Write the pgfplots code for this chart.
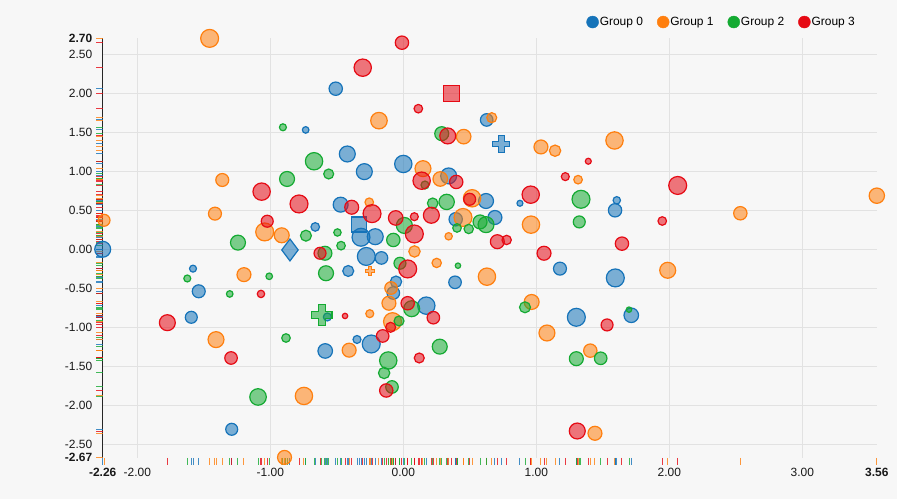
\documentclass[border=0pt]{standalone}
\usepackage{fontspec}
\setmainfont{Liberation Sans}
\usepackage{pgfplots}
\usepackage{pgfplotstable}
\pgfplotsset{compat=1.18}
\usetikzlibrary{plotmarks}

\definecolor{c0}{HTML}{1573B9}
\definecolor{c1}{HTML}{FF7F0E}
\definecolor{c2}{HTML}{14AA32}
\definecolor{c3}{HTML}{E60A14}
\definecolor{bg}{HTML}{F7F7F7}
\definecolor{gridc}{HTML}{E2E2E2}

% thick plus, like the d3 "cross" symbol
\pgfdeclareplotmark{fatplus}{%
  \pgfmathsetmacro\s{\pgfplotmarksize}%
  \pgfmathsetmacro\t{\pgfplotmarksize/3}%
  \pgfpathmoveto{\pgfpoint{-\t pt}{\s pt}}%
  \pgfpathlineto{\pgfpoint{\t pt}{\s pt}}%
  \pgfpathlineto{\pgfpoint{\t pt}{\t pt}}%
  \pgfpathlineto{\pgfpoint{\s pt}{\t pt}}%
  \pgfpathlineto{\pgfpoint{\s pt}{-\t pt}}%
  \pgfpathlineto{\pgfpoint{\t pt}{-\t pt}}%
  \pgfpathlineto{\pgfpoint{\t pt}{-\s pt}}%
  \pgfpathlineto{\pgfpoint{-\t pt}{-\s pt}}%
  \pgfpathlineto{\pgfpoint{-\t pt}{-\t pt}}%
  \pgfpathlineto{\pgfpoint{-\s pt}{-\t pt}}%
  \pgfpathlineto{\pgfpoint{-\s pt}{\t pt}}%
  \pgfpathlineto{\pgfpoint{-\t pt}{\t pt}}%
  \pgfpathclose
  \pgfusepathqfillstroke
}

% x y radius shape (c circle, d diamond, p cross, q square)
\pgfplotstableread{
x y r s
-2.260 0.000 8 c
-0.734 1.528 3.3 c
-0.852 -0.009 11 d
-1.581 -0.248 3.5 c
-1.538 -0.538 6.5 c
-1.594 -0.871 6 c
-1.290 -2.305 6 c
-0.508 2.056 6.7 c
0.627 1.656 6.3 c
0.737 1.348 8.5 p
-0.421 1.220 8 c
-0.293 0.994 8 c
0.000 1.092 8.7 c
0.341 0.939 8 c
-0.471 0.571 7.5 c
0.622 0.618 7.5 c
0.394 0.384 6.7 c
0.689 0.407 7 c
-0.333 0.318 7.5 q
-0.318 0.154 9 c
-0.211 0.161 8 c
-0.662 0.286 4.3 c
-0.278 -0.092 9 c
-0.164 -0.111 6.3 c
-0.414 -0.278 5.5 c
0.389 -0.423 6.3 c
-0.055 -0.415 5.7 c
-0.075 -0.560 6.3 c
0.173 -0.722 8.7 c
-0.571 -0.867 4 c
-0.348 -1.155 4 c
-0.241 -1.213 9 c
-0.587 -1.302 7.3 c
0.877 0.589 3 c
1.605 0.627 3.7 c
1.592 0.499 6.7 c
1.178 -0.248 6.5 c
1.594 -0.367 9 c
1.301 -0.871 9 c
1.714 -0.845 7.3 c
}\groupA

\pgfplotstableread{
x y r s
-1.456 2.700 9 c
-2.250 0.371 6 c
-1.361 0.887 6.5 c
-1.416 0.456 6.5 c
-1.042 0.222 9 c
-0.914 0.179 7.5 c
-1.198 -0.325 7 c
-1.408 -1.157 8 c
-0.747 -1.878 8.7 c
-0.893 -2.665 7 c
-0.183 1.647 8.3 c
0.665 1.685 5 c
0.454 1.442 7.3 c
0.148 1.032 8 c
0.278 0.900 7.3 c
-0.256 0.602 4.3 c
0.517 0.653 8.7 c
0.449 0.407 9 c
0.341 0.166 3.7 c
0.084 -0.028 5.7 c
0.251 -0.175 4.7 c
0.629 -0.351 8.7 c
-0.248 -0.274 4.5 p
-0.092 -0.496 6.3 c
-0.108 -0.691 7 c
-0.252 -0.825 4 c
-0.081 -0.927 9 c
-0.407 -1.292 7 c
1.035 1.310 7 c
1.141 1.262 5.7 c
1.588 1.393 8.7 c
1.314 0.891 4.3 c
0.960 0.315 8.7 c
3.560 0.686 7.7 c
2.534 0.461 6.7 c
1.988 -0.269 8 c
0.965 -0.675 7.5 c
1.080 -1.072 8 c
1.406 -1.298 6.7 c
1.441 -2.356 7 c
}\groupB

\pgfplotstableread{
x y r s
-0.905 1.562 3.5 c
-0.671 1.127 8.7 c
-0.874 0.900 7.5 c
-0.732 0.174 5.5 c
-1.243 0.085 7.5 c
-1.624 -0.374 3.5 c
-1.008 -0.346 3.3 c
-1.305 -0.572 3.3 c
-0.882 -1.136 4.3 c
-1.092 -1.891 8.3 c
0.289 1.480 7 c
-0.561 0.964 5 c
0.163 0.823 4 c
0.221 0.589 5.3 c
0.326 0.606 7.7 c
0.577 0.350 7 c
0.622 0.315 8 c
0.404 0.273 4.3 c
0.492 0.260 4.7 c
-0.495 0.215 3.7 c
-0.075 0.119 6.7 c
-0.468 0.046 4.3 c
0.008 0.305 8 c
-0.589 -0.051 7 c
-0.025 -0.179 6 c
0.411 -0.210 2.7 c
-0.581 -0.307 7.5 c
-0.614 -0.845 10.5 p
0.063 -0.761 8 c
-0.032 -0.918 5 c
-0.113 -1.424 8.7 c
0.274 -1.247 7.5 c
-0.144 -1.584 5.7 c
-0.085 -1.763 6.3 c
1.336 0.640 9 c
1.323 0.350 6 c
0.915 -0.743 5.5 c
1.697 -0.773 2.7 c
1.301 -1.401 7 c
1.484 -1.396 6.3 c
}\groupC

\pgfplotstableread{
x y r s
-1.065 0.738 8.7 c
-0.784 0.580 9 c
-1.023 0.359 6 c
-1.070 -0.572 3.7 c
-1.774 -0.940 8 c
-1.295 -1.392 6.3 c
-0.010 2.645 6.7 c
-0.305 2.325 8.7 c
0.361 1.997 8.2 q
0.113 1.800 4.3 c
0.334 1.451 8 c
0.138 0.878 8.7 c
0.398 0.862 6.7 c
-0.388 0.538 7 c
-0.235 0.456 9 c
0.499 0.640 6 c
-0.057 0.401 7.3 c
0.083 0.417 4 c
0.211 0.435 8 c
0.083 0.196 9 c
0.707 0.097 7 c
0.777 0.119 4.7 c
-0.626 -0.051 6 c
0.033 -0.252 9 c
0.033 -0.691 6.7 c
0.226 -0.876 6.3 c
-0.438 -0.854 2.7 c
-0.095 -0.999 5 c
-0.155 -1.110 6.3 c
0.120 -1.392 5 c
-0.128 -1.808 6.7 c
1.391 1.127 3 c
1.218 0.930 4 c
0.958 0.699 8.7 c
2.063 0.817 9 c
1.947 0.362 4.3 c
1.644 0.072 6.7 c
1.058 -0.051 7 c
1.532 -0.969 6 c
1.308 -2.327 8 c
}\groupD

\pgfplotsset{
  bubbles/.style={
    scatter, only marks, forget plot,
    point meta=explicit symbolic,
    scatter/classes={c={mark=*}, d={mark=diamond*}, p={mark=fatplus}, q={mark=square*}},
    visualization depends on={\thisrow{r} \as \rr},
    scatter/@pre marker code/.append style={/tikz/mark size=\rr},
    mark options={fill opacity=0.55, line width=1.2bp},
  },
  rugx/.style={only marks, forget plot, mark=|, mark size=3.5bp, opacity=0.8,
    mark options={yshift=-3.5bp, line width=1bp}},
  rugy/.style={only marks, forget plot, mark=-, mark size=3.5bp, opacity=0.8,
    mark options={xshift=-3.5bp, line width=1bp}},
}

\begin{document}
\begin{tikzpicture}
\path[use as bounding box, fill=bg] (0,0) rectangle (897bp,499bp);
\begin{axis}[
  at={(102.7bp,41.2bp)}, anchor=south west,
  scale only axis, width=774.1bp, height=419.4bp,
  xmin=-2.26, xmax=3.56, ymin=-2.67, ymax=2.70,
  clip=false,
  axis x line*=bottom, axis y line*=left,
  x axis line style={draw=none},
  y axis line style={draw=black!85, line width=1bp},
  xtick={-2,-1,0,1,2,3},
  ytick={-2.5,-2,-1.5,-1,-0.5,0,0.5,1,1.5,2,2.5},
  extra x ticks={-2.26,3.56}, extra y ticks={-2.67,2.70},
  extra tick style={grid=none, tick label style={font=\bfseries\fontsize{12}{14}\selectfont}},
  grid=major, major grid style={gridc, line width=1bp},
  major tick length=0pt,
  ticklabel style={font=\fontsize{12}{14}\selectfont, text=black!90},
  xticklabel style={yshift=-7bp},
  yticklabel style={xshift=-7bp},
  scaled ticks=false,
  /pgf/number format/.cd, fixed, fixed zerofill, precision=2, assume math mode=true,
  /pgfplots/.cd,
  legend style={at={(axis description cs:0.9731,1.039)}, anchor=east,
    draw=none, fill=none, inner sep=0pt, nodes={inner sep=1bp},
    font=\fontsize{12}{14}\selectfont,
    /tikz/every even column/.append style={column sep=13bp}},
  legend columns=-1,
]
\addlegendimage{legend image code/.code={\fill[c0] (0bp,0bp) circle (6bp);}}
\addlegendimage{legend image code/.code={\fill[c1] (0bp,0bp) circle (6bp);}}
\addlegendimage{legend image code/.code={\fill[c2] (0bp,0bp) circle (6bp);}}
\addlegendimage{legend image code/.code={\fill[c3] (0bp,0bp) circle (6bp);}}
\legend{Group 0,Group 1,Group 2,Group 3}

% rugs
\addplot[rugx, c0] table[x=x, y expr=-2.67] {\groupA};
\addplot[rugx, c1] table[x=x, y expr=-2.67] {\groupB};
\addplot[rugx, c2] table[x=x, y expr=-2.67] {\groupC};
\addplot[rugx, c3] table[x=x, y expr=-2.67] {\groupD};
\addplot[rugy, c0] table[x expr=-2.26, y=y] {\groupA};
\addplot[rugy, c1] table[x expr=-2.26, y=y] {\groupB};
\addplot[rugy, c2] table[x expr=-2.26, y=y] {\groupC};
\addplot[rugy, c3] table[x expr=-2.26, y=y] {\groupD};

% bubbles
\addplot[bubbles, c0] table[x=x, y=y, meta=s] {\groupA};
\addplot[bubbles, c1] table[x=x, y=y, meta=s] {\groupB};
\addplot[bubbles, c2] table[x=x, y=y, meta=s] {\groupC};
\addplot[bubbles, c3] table[x=x, y=y, meta=s] {\groupD};
\end{axis}
\end{tikzpicture}
\end{document}
